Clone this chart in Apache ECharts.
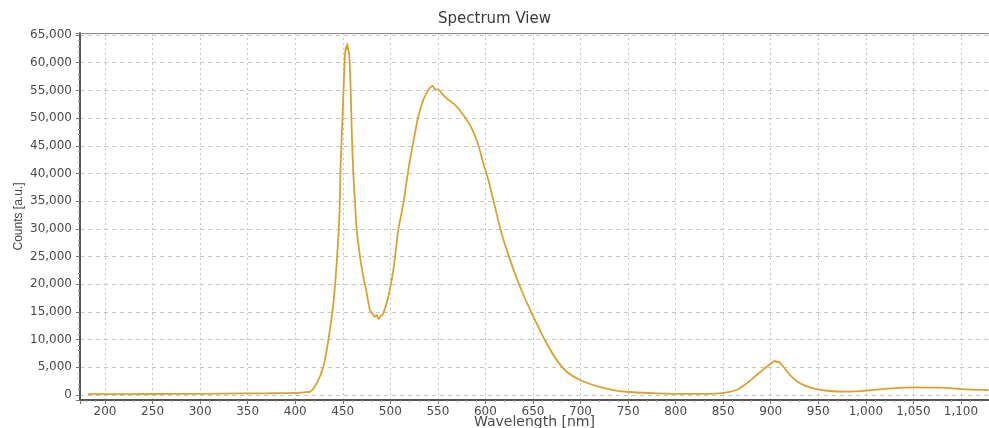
<!DOCTYPE html>
<html>
<head>
<meta charset="utf-8">
<title>Spectrum View</title>
<script src="https://cdn.jsdelivr.net/npm/echarts@6/dist/echarts.min.js"></script>
<style>
  html, body { margin: 0; padding: 0; background: #ffffff; }
  #chart { width: 989px; height: 428px; }
</style>
</head>
<body>
<div id="chart"></div>
<script>
// Emission spectrum: wavelength (nm) against detector counts (a.u.)
const wavelengths = [
  182, 200, 250, 300, 350, 380, 400, 410, 415.6, 422.6, 429.6, 434.8, 440.1, 443.6,
  446.4, 447.8, 449.9, 451.6, 452.4, 453.4, 454.2, 454.8, 455.6, 456.9, 458.3, 459.4,
  461.1, 462.9, 464.7, 468.1, 471.6, 475.2, 478.6, 481.5, 483.9, 485.6, 487.4, 489.5,
  492.6, 497.9, 503.2, 508.4, 513.7, 518.9, 524.2, 529.4, 534.7, 540, 542.5, 544.5,
  546.5, 550.5, 555, 559.2, 568, 576.8, 585.6, 592.6, 597.8, 603.1, 608.3, 617,
  625.9, 636.4, 648.7, 657.4, 664.4, 675, 685.5, 699.5, 717, 734.5, 752, 780,
  815, 846.7, 864, 874.7, 885.2, 895.8, 902, 904.5, 906.5, 908, 913.2, 920.3,
  930.8, 944.8, 962.3, 979.9, 1000.9, 1021.9, 1050, 1078, 1106, 1129
];
const counts = [
  150, 150, 180, 200, 280, 320, 380, 500, 600, 2100, 5100, 9900, 16550, 23800,
  32200, 41800, 50900, 58700, 61500, 62900, 62400, 63400, 62600, 61100, 55100, 47800,
  40000, 34600, 29800, 25000, 21400, 18400, 15300, 14600, 14100, 14500, 13700, 14200,
  14750, 17750, 22600, 29800, 34600, 40600, 45700, 50250, 53300, 55100, 55600, 55800,
  55300, 55100, 54300, 53550, 52400, 50550, 48150, 45100, 41800, 38800, 35200, 29200,
  24400, 19550, 14750, 11700, 9300, 6300, 4200, 2700, 1600, 900, 540, 300,
  200, 300, 900, 2100, 3600, 5100, 5900, 6150, 5950, 6000, 5100, 3600,
  2100, 1200, 720, 600, 780, 1140, 1390, 1320, 1030, 900
];

const spectrum = wavelengths.map((w, i) => [w, counts[i]]);

const chart = echarts.init(document.getElementById('chart'), null, { renderer: 'canvas' });

const labelFont = {
  fontFamily: 'DejaVu Sans',
  fontSize: 12,
  color: '#4a4a4a'
};
const fmt = v => Math.round(v).toLocaleString('en-US');

chart.setOption({
  backgroundColor: '#ffffff',
  animation: false,
  title: {
    text: 'Spectrum View',
    left: 'center',
    top: 7,
    textStyle: { fontFamily: 'DejaVu Sans', fontSize: 15, fontWeight: 'normal', color: '#3a3a3a' }
  },
  grid: { left: 80, right: 0, top: 33, bottom: 28, containLabel: false, outerBoundsMode: 'none' },
  xAxis: [{
    type: 'value',
    min: 173.7,
    max: 1129.5,
    splitNumber: 19,
    name: 'Wavelength [nm]',
    nameLocation: 'middle',
    nameGap: 15,
    nameMoveOverlap: false,
    nameTextStyle: { fontFamily: 'DejaVu Sans', fontSize: 14, color: '#4a4a4a' },
    axisLine: { show: true, onZero: false, lineStyle: { color: '#555', width: 2 } },
    axisTick: { show: true, length: 4, lineStyle: { color: '#777' } },
    minorTick: { show: true, splitNumber: 5, length: 2, lineStyle: { color: '#999' } },
    axisLabel: Object.assign({ margin: 6, showMinLabel: false, showMaxLabel: false, formatter: fmt }, labelFont),
    splitLine: { show: true, lineStyle: { color: '#c4c4c4', type: [2, 3], width: 1 } }
  }, {
    type: 'value',
    position: 'top',
    min: 173.7,
    max: 1129.5,
    axisLine: { show: true, onZero: false, lineStyle: { color: '#888', width: 1 } },
    axisTick: { show: false },
    axisLabel: { show: false },
    splitLine: { show: false }
  }],
  yAxis: {
    type: 'value',
    min: -903,
    max: 65361,
    splitNumber: 13,
    name: 'Counts [a.u.]',
    nameLocation: 'middle',
    nameGap: 55,
    nameMoveOverlap: false,
    nameRotate: 90,
    nameTextStyle: { fontFamily: 'Liberation Sans', fontSize: 12, color: '#444' },
    axisLine: { show: true, onZero: false, lineStyle: { color: '#555', width: 2 } },
    axisTick: { show: true, length: 4, lineStyle: { color: '#777' } },
    minorTick: { show: true, splitNumber: 5, length: 2, lineStyle: { color: '#999' } },
    axisLabel: Object.assign({ margin: 8, showMinLabel: false, showMaxLabel: false, formatter: fmt }, labelFont),
    splitLine: { show: true, lineStyle: { color: '#c4c4c4', type: [4, 4], width: 1 } }
  },
  series: [{
    type: 'line',
    data: spectrum,
    xAxisIndex: 0,
    showSymbol: false,
    smooth: 0.3,
    lineStyle: { color: '#d9a232', width: 1.8 },
    itemStyle: { color: '#d9a232' }
  }]
});
</script>
</body>
</html>
